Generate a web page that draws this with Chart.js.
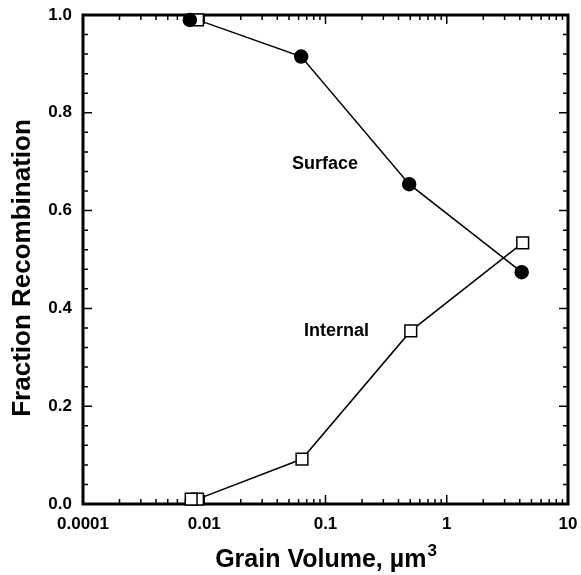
<!DOCTYPE html>
<html>
<head>
<meta charset="utf-8">
<script src="https://cdn.jsdelivr.net/npm/chart.js@4.4.0/dist/chart.umd.min.js"></script>
<style>
  html, body { margin: 0; padding: 0; background: #fff; }
  #wrap { width: 581px; height: 575px; }
</style>
</head>
<body>
<div id="wrap"><canvas id="chart"></canvas></div>
<script>
// Values
const surfaceX = [0.0088, 0.063, 0.49, 4.15];
const surfaceY = [0.99, 0.915, 0.654, 0.474];
const internalX = [0.0088, 0.064, 0.505, 4.23];
const internalY = [0.01, 0.092, 0.354, 0.534];
// lone markers just left of the first line points
const loneSurfaceX = [0.0076];
const loneSurfaceY = [0.99];
const loneInternalX = [0.0078];
const loneInternalY = [0.01];

const xTickValues = [0.001, 0.01, 0.1, 1, 10];
const xTickLabels = ["0.0001", "0.01", "0.1", "1", "10"];
const yTickValues = [0, 0.2, 0.4, 0.6, 0.8, 1.0];
const yTickLabels = ["0.0", "0.2", "0.4", "0.6", "0.8", "1.0"];

const noteTexts = ["Surface", "Internal"];
const noteX = [0.099, 0.123];
const noteY = [0.695, 0.354];

const FONT = "'Liberation Sans', Arial, Helvetica, sans-serif";
const toPoints = (xs, ys) => xs.map((x, i) => ({ x, y: ys[i] }));

// frame, inward ticks on all four sides, titles and notes
const framePlugin = {
  id: "frame",
  beforeDatasetsDraw(chart) {
    const { ctx, chartArea: a, scales: { x, y } } = chart;
    ctx.save();
    ctx.strokeStyle = "#000";
    ctx.lineWidth = 1.5;
    ctx.beginPath();
    const vTick = (px, len) => {
      ctx.moveTo(px, a.bottom); ctx.lineTo(px, a.bottom - len);
      ctx.moveTo(px, a.top); ctx.lineTo(px, a.top + len);
    };
    const hTick = (py, len) => {
      ctx.moveTo(a.left, py); ctx.lineTo(a.left + len, py);
      ctx.moveTo(a.right, py); ctx.lineTo(a.right - len, py);
    };
    xTickValues.forEach(v => vTick(x.getPixelForValue(v), 9));
    xTickValues.slice(0, -1).forEach(d => {
      for (let k = 2; k < 10; k++) vTick(x.getPixelForValue(d * k), 5);
    });
    yTickValues.forEach(v => hTick(y.getPixelForValue(v), 9));
    for (let i = 1; i < 25; i++) hTick(y.getPixelForValue(i * 0.04), 5);
    ctx.stroke();
    ctx.lineWidth = 3;
    ctx.strokeRect(a.left, a.top, a.right - a.left, a.bottom - a.top);

    ctx.fillStyle = "#000";
    ctx.font = "bold 18px " + FONT;
    ctx.textAlign = "center";
    ctx.textBaseline = "middle";
    noteTexts.forEach((t, i) => {
      ctx.fillText(t, x.getPixelForValue(noteX[i]), y.getPixelForValue(noteY[i]));
    });

    // x title with a raised superscript
    ctx.textBaseline = "alphabetic";
    ctx.textAlign = "left";
    ctx.font = "bold 25px " + FONT;
    const main = "Grain Volume, \u00b5m";
    const wMain = ctx.measureText(main).width;
    ctx.font = "bold 17px " + FONT;
    const wSup = ctx.measureText("3").width;
    const x0 = (a.left + a.right) / 2 - (wMain + wSup) / 2;
    ctx.font = "bold 25px " + FONT;
    ctx.fillText(main, x0, 567);
    ctx.font = "bold 17px " + FONT;
    ctx.fillText("3", x0 + wMain + 1, 556);

    ctx.textAlign = "center";
    ctx.font = "bold 26px " + FONT;
    ctx.translate(30, 268);
    ctx.rotate(-Math.PI / 2);
    ctx.fillText("Fraction Recombination", 0, 0);
    ctx.restore();
  }
};

const common = {
  borderColor: "#000",
  borderWidth: 1.5,
  pointBorderColor: "#000",
  pointBorderWidth: 1.5,
  tension: 0,
  clip: false,
};

new Chart(document.getElementById("chart"), {
  type: "scatter",
  data: {
    datasets: [
      {
        ...common,
        label: "Surface (lone)",
        data: toPoints(loneSurfaceX, loneSurfaceY),
        showLine: false,
        pointStyle: "circle",
        pointRadius: 6.5,
        pointBackgroundColor: "#000",
      },
      {
        ...common,
        label: "Internal (lone)",
        data: toPoints(loneInternalX, loneInternalY),
        showLine: false,
        pointStyle: "rect",
        pointRadius: 8.3,
        pointBackgroundColor: "#fff",
      },
      {
        ...common,
        label: "Surface",
        data: toPoints(surfaceX, surfaceY),
        showLine: true,
        pointStyle: ["rect", "circle", "circle", "circle"],
        pointRadius: [8.3, 6.5, 6.5, 6.5],
        pointBackgroundColor: ["#fff", "#000", "#000", "#000"],
      },
      {
        ...common,
        label: "Internal",
        data: toPoints(internalX, internalY),
        showLine: true,
        pointStyle: "rect",
        pointRadius: 8.3,
        pointBackgroundColor: "#fff",
      },
    ],
  },
  options: {
    responsive: true,
    maintainAspectRatio: false,
    animation: false,
    events: [],
    layout: { padding: { top: 15, right: 13, left: 0, bottom: 0 } },
    plugins: { legend: { display: false }, tooltip: { enabled: false } },
    scales: {
      x: {
        type: "logarithmic",
        min: 0.001,
        max: 10,
        border: { display: false },
        grid: { display: false, drawTicks: false },
        afterBuildTicks: s => { s.ticks = xTickValues.map(v => ({ value: v })); },
        afterFit: s => { s.height = 71; s.paddingLeft = 0; s.paddingRight = 0; },
        ticks: {
          autoSkip: false,
          maxRotation: 0,
          padding: 10,
          color: "#000",
          font: { family: FONT, size: 17, weight: "bold" },
          callback: (v, i) => xTickLabels[i],
        },
      },
      y: {
        min: 0,
        max: 1,
        border: { display: false },
        grid: { display: false, drawTicks: false },
        afterBuildTicks: s => { s.ticks = yTickValues.map(v => ({ value: v })); },
        afterFit: s => { s.width = 83; s.paddingTop = 0; s.paddingBottom = 0; },
        ticks: {
          padding: 11,
          color: "#000",
          font: { family: FONT, size: 17, weight: "bold" },
          callback: (v, i) => yTickLabels[i],
        },
      },
    },
  },
  plugins: [framePlugin],
});
</script>
</body>
</html>
